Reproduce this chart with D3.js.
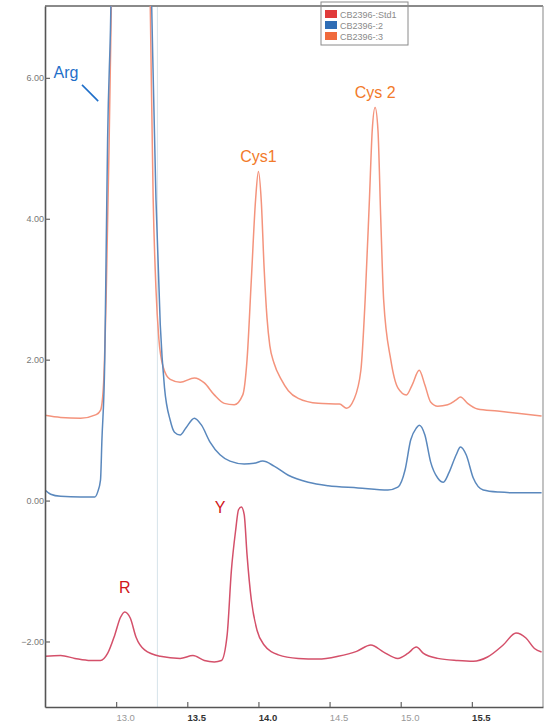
<!DOCTYPE html>
<html><head><meta charset="utf-8">
<script src="https://cdn.jsdelivr.net/npm/d3@7"></script>
<style>html,body{margin:0;padding:0;background:#fff;}svg{display:block;}</style>
</head><body>
<script>
// ---- data ----
const seriesNames = ["CB2396-:Std1", "CB2396-:2", "CB2396-:3"];
const legendColors = ["#e03a3a", "#2f6db5", "#f06a3c"];
const lineColors = ["#d4506a", "#5a88bd", "#f4937c"];

const std1T = [12.50,12.61,12.71,12.82,12.89,12.94,12.99,13.03,13.06,13.10,13.14,13.20,13.31,13.45,13.54,13.62,13.69,13.74,13.78,13.81,13.84,13.86,13.88,13.90,13.92,13.95,13.99,14.04,14.14,14.28,14.42,14.56,14.69,14.79,14.88,14.98,15.05,15.11,15.16,15.26,15.40,15.51,15.61,15.72,15.81,15.88,15.94,15.99];
const std1V = [-2.21,-2.20,-2.24,-2.27,-2.27,-2.17,-1.91,-1.66,-1.58,-1.67,-1.94,-2.12,-2.21,-2.24,-2.20,-2.27,-2.29,-2.27,-1.91,-0.99,-0.42,-0.13,-0.09,-0.20,-0.77,-1.41,-1.84,-2.05,-2.19,-2.24,-2.25,-2.21,-2.14,-2.05,-2.15,-2.24,-2.17,-2.08,-2.17,-2.24,-2.27,-2.28,-2.22,-2.05,-1.88,-1.95,-2.10,-2.15];

const s2T = [12.50,12.54,12.61,12.75,12.85,12.87,12.89,12.90,12.92,12.93,12.94,12.96,13.00,13.10,13.20,13.25,13.28,13.31,13.34,13.38,13.41,13.45,13.49,13.55,13.60,13.66,13.73,13.80,13.90,13.97,14.03,14.11,14.21,14.35,14.49,14.70,14.91,14.98,15.03,15.07,15.11,15.13,15.17,15.21,15.26,15.30,15.34,15.39,15.42,15.46,15.51,15.58,15.69,15.82,15.99];
const s2V = [0.15,0.09,0.06,0.05,0.05,0.12,0.29,0.86,2.00,3.56,5.12,6.68,11.0,16.0,12.0,7.00,4.27,2.50,1.60,1.14,0.97,0.93,1.03,1.17,1.07,0.83,0.65,0.56,0.52,0.53,0.56,0.49,0.36,0.26,0.21,0.18,0.15,0.19,0.43,0.86,1.03,1.07,0.93,0.55,0.32,0.26,0.40,0.65,0.76,0.65,0.32,0.15,0.12,0.11,0.11];

const s3T = [12.50,12.61,12.75,12.86,12.89,12.91,12.93,12.95,12.97,13.00,13.10,13.20,13.24,13.26,13.28,13.30,13.33,13.38,13.45,13.55,13.62,13.69,13.76,13.83,13.89,13.92,13.95,13.98,14.00,14.02,14.04,14.06,14.08,14.11,14.16,14.21,14.28,14.42,14.57,14.62,14.67,14.72,14.75,14.78,14.80,14.82,14.84,14.86,14.88,14.93,14.98,15.04,15.08,15.13,15.17,15.21,15.26,15.33,15.39,15.42,15.47,15.54,15.68,15.82,15.99];
const s3V = [1.21,1.18,1.17,1.22,1.28,1.60,2.90,5.00,7.50,12.0,16.0,12.0,7.00,4.30,3.00,2.30,1.90,1.72,1.68,1.74,1.67,1.50,1.38,1.36,1.50,2.00,3.13,4.27,4.67,4.25,3.30,2.60,2.20,1.95,1.72,1.56,1.45,1.38,1.37,1.31,1.43,1.85,2.85,4.27,5.26,5.58,5.26,3.98,2.85,2.00,1.60,1.50,1.64,1.85,1.64,1.40,1.34,1.36,1.43,1.47,1.38,1.30,1.27,1.24,1.20];

const xTicks = [13.0, 13.5, 14.0, 14.5, 15.0, 15.5];
const xTickBold = [false, true, true, false, false, true];
const yTicks = [-2, 0, 2, 4, 6];

const labels = [
  {text: "Arg", t: 12.56, v: 6.00, color: "#1f6fc9"},
  {text: "Cys1", t: 14.00, v: 4.81, color: "#f27a2a"},
  {text: "Cys 2", t: 14.82, v: 5.71, color: "#f27a2a"},
  {text: "R", t: 13.06, v: -1.31, color: "#d0161a"},
  {text: "Y", t: 13.73, v: -0.17, color: "#d0161a"}
];

// ---- layout ----
const W = 546, H = 725;
const m = {left: 45, right: 3, top: 6, bottom: 18};
const x = d3.scaleLinear().domain([12.5, 16.0]).range([m.left, W - m.right]);
const y = d3.scaleLinear().domain([-2.93, 7.02]).range([H - m.bottom, m.top]);

const svg = d3.select("body").append("svg").attr("width", W).attr("height", H)
  .style("font-family", "Liberation Sans, Arial, sans-serif");

svg.append("defs").append("clipPath").attr("id", "clip")
  .append("rect").attr("x", m.left).attr("y", m.top)
  .attr("width", W - m.right - m.left).attr("height", H - m.bottom - m.top);

// faint scan line
svg.append("line").attr("x1", x(13.29)).attr("x2", x(13.29))
  .attr("y1", m.top).attr("y2", H - m.bottom)
  .attr("stroke", "#d6e4ea").attr("stroke-width", 1);

// frame (top/right light)
svg.append("line").attr("x1", m.left).attr("x2", W - m.right).attr("y1", m.top).attr("y2", m.top)
  .attr("stroke", "#8a8a8a").attr("stroke-width", 1.8);
svg.append("line").attr("x1", W - m.right).attr("x2", W - m.right).attr("y1", m.top).attr("y2", H - m.bottom)
  .attr("stroke", "#9a9a9a").attr("stroke-width", 1.2);

// curves
const line = d3.line().x(d => x(d[0])).y(d => y(d[1])).curve(d3.curveMonotoneX);
const data = [
  d3.zip(std1T, std1V),
  d3.zip(s2T, s2V),
  d3.zip(s3T, s3V)
];
const g = svg.append("g").attr("clip-path", "url(#clip)");
[2, 1, 0].forEach(i => {
  g.append("path").datum(data[i]).attr("d", line)
    .attr("fill", "none").attr("stroke", lineColors[i]).attr("stroke-width", 1.5)
    .attr("stroke-linejoin", "round");
});

// axes
const xAxis = svg.append("g").attr("transform", `translate(0,${H - m.bottom})`)
  .call(d3.axisBottom(x).tickValues(xTicks).tickSizeInner(-5).tickSizeOuter(0).tickFormat(d3.format(".1f")));
xAxis.select(".domain").attr("stroke", "#555").attr("stroke-width", 1.6);
xAxis.selectAll(".tick line").attr("stroke", "#666").attr("stroke-width", 1.2);
xAxis.selectAll(".tick text").attr("dx", 9).attr("y", 7)
  .attr("font-size", 9.5).attr("fill", (d, i) => xTickBold[i] ? "#333" : "#999")
  .attr("font-weight", (d, i) => xTickBold[i] ? "bold" : "normal");

const yAxis = svg.append("g").attr("transform", `translate(${m.left},0)`)
  .call(d3.axisLeft(y).tickValues(yTicks).tickSizeInner(-5).tickSizeOuter(0).tickFormat(d3.format(".2f")));
yAxis.select(".domain").attr("stroke", "#555").attr("stroke-width", 1.6);
yAxis.selectAll(".tick line").attr("stroke", "#666").attr("stroke-width", 1.2);
yAxis.selectAll(".tick text").attr("x", -1).attr("font-size", 9).attr("fill", "#777");

// legend
const lg = svg.append("g");
lg.append("rect").attr("x", 321).attr("y", 2).attr("width", 87).attr("height", 43)
  .attr("fill", "#fff").attr("stroke", "#8a8a8a").attr("stroke-width", 1);
seriesNames.forEach((n, i) => {
  lg.append("rect").attr("x", 325).attr("y", 10 + i * 11).attr("width", 12).attr("height", 8)
    .attr("fill", legendColors[i]);
  lg.append("text").attr("x", 340).attr("y", 17.5 + i * 11).attr("font-size", 9)
    .attr("fill", "#8a8a8a").text(n);
});
svg.append("line").attr("x1", 321).attr("x2", 408).attr("y1", m.top).attr("y2", m.top)
  .attr("stroke", "#8a8a8a").attr("stroke-width", 1.8);

// annotations
labels.forEach(l => {
  svg.append("text").attr("x", x(l.t)).attr("y", y(l.v))
    .attr("text-anchor", l.text === "Arg" ? "start" : "middle")
    .attr("font-size", 16).attr("fill", l.color).text(l.text);
});
svg.append("line").attr("x1", x(12.76)).attr("y1", y(5.9)).attr("x2", x(12.874)).attr("y2", y(5.67))
  .attr("stroke", "#1f6fc9").attr("stroke-width", 1.6);
</script>
</body></html>
